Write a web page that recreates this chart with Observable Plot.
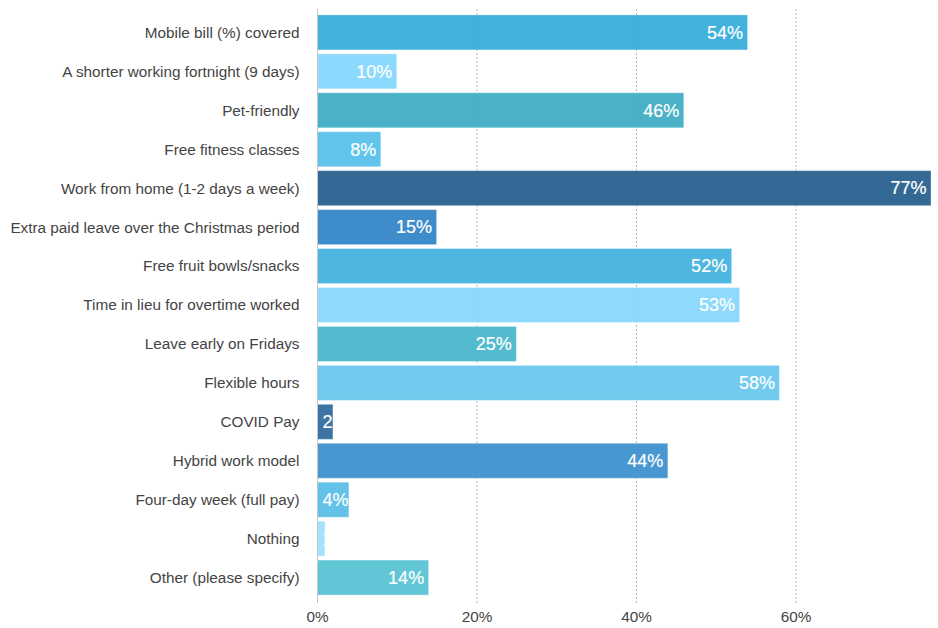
<!DOCTYPE html>
<html>
<head>
<meta charset="utf-8">
<script src="https://cdn.jsdelivr.net/npm/d3@7"></script>
<script src="https://cdn.jsdelivr.net/npm/@observablehq/plot@0.6"></script>
<style>
  html, body { margin: 0; padding: 0; background: #fff; }
  #chart { width: 938px; height: 628px; }
</style>
</head>
<body>
<div id="chart"></div>
<script>
const categories = [
  "Mobile bill (%) covered",
  "A shorter working fortnight (9 days)",
  "Pet-friendly",
  "Free fitness classes",
  "Work from home (1-2 days a week)",
  "Extra paid leave over the Christmas period",
  "Free fruit bowls/snacks",
  "Time in lieu for overtime worked",
  "Leave early on Fridays",
  "Flexible hours",
  "COVID Pay",
  "Hybrid work model",
  "Four-day week (full pay)",
  "Nothing",
  "Other (please specify)"
];
const values = [54, 10, 46, 8, 77, 15, 52, 53, 25, 58, 2, 44, 4, 1, 14];
const colors = [
  "#3cafdc", "#87d8fc", "#44aec4", "#5cc3ea", "#2d6492",
  "#3988c9", "#48b4df", "#8bd9fc", "#4cb9cc", "#6dc8ee",
  "#3870a0", "#4394cf", "#5dc0e7", "#a2e1fd", "#5cc5d6"
];
const xTicks = [0, 20, 40, 60];

const data = categories.map((c, i) => ({category: c, value: values[i], color: colors[i]}));
const inside = data.filter(d => d.value >= 5);
const outside = data.filter(d => d.value < 5);

const chart = Plot.plot({
  width: 938,
  height: 628,
  marginLeft: 317,
  marginRight: 7,
  marginTop: 11,
  marginBottom: 29,
  style: {fontFamily: "'Liberation Sans', Arial, Helvetica, sans-serif", fontSize: "15.3px", color: "#444", background: "#fff"},
  x: {domain: [0, 77], ticks: xTicks, tickFormat: d => d + "%", tickSize: 0, tickPadding: 12, label: null},
  y: {domain: categories, padding: 0.1, round: false, tickSize: 0, tickPadding: 18, label: null},
  color: {type: "identity"},
  marks: [
    Plot.ruleX(xTicks.filter(d => d > 0), {stroke: "#b5b5b5", strokeDasharray: "2,2", strokeWidth: 1, insetTop: -2, insetBottom: -4}),
    Plot.barX(data, {x: "value", y: "category", fill: "color", fillOpacity: 0.97, stroke: "#ffffff", strokeOpacity: 0.35, strokeWidth: 1}),
    Plot.ruleX([0], {stroke: "#c4c4c4", strokeWidth: 1, insetTop: -2, insetBottom: -4}),
    Plot.text(inside, {x: "value", y: "category", text: d => d.value + "%", textAnchor: "end", dx: -5, fill: "white", stroke: "white", strokeWidth: 0.2, fontSize: 18, clip: true}),
    Plot.text(outside, {x: 0, y: "category", text: d => d.value + "%", textAnchor: "start", dx: 5, fill: "white", stroke: "white", strokeWidth: 0.2, fontSize: 18, clip: true})
  ]
});
document.getElementById("chart").appendChild(chart);
</script>
</body>
</html>
